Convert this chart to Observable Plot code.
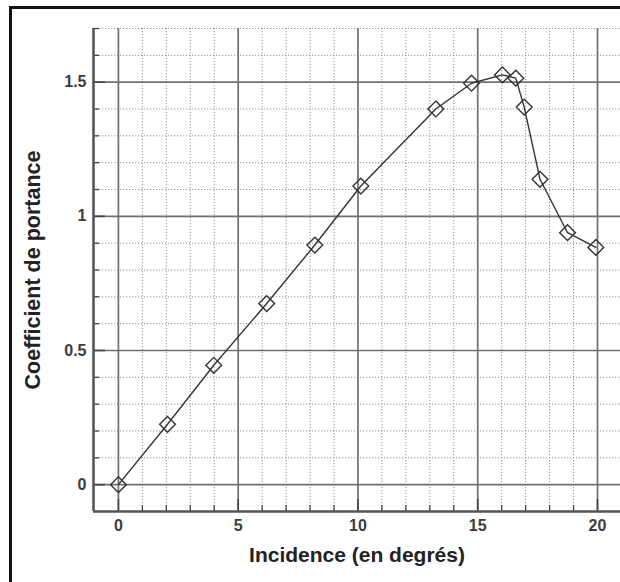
<!DOCTYPE html>
<html>
<head>
<meta charset="utf-8">
<script src="https://cdn.jsdelivr.net/npm/d3@7"></script>
<script src="https://cdn.jsdelivr.net/npm/@observablehq/plot@0.6"></script>
<style>
  html, body { margin: 0; padding: 0; background: #fff; overflow: hidden; }
  #wrap { position: relative; width: 620px; height: 582px; overflow: hidden; background: #fff; }
  #border { position: absolute; left: 9px; top: 6px; width: 700px; height: 700px; border: 3px solid #111; box-sizing: border-box; pointer-events: none; }
  #chart { position: absolute; left: 0; top: 0; }
</style>
</head>
<body>
<div id="wrap"><div id="chart"></div><div id="border"></div></div>
<script>
// Data
const incidence = [0, 2.05, 3.98, 6.19, 8.20, 10.12, 13.25, 14.74, 16.03, 16.59, 16.94, 17.60, 18.75, 19.93];
const portance  = [0, 0.225, 0.445, 0.675, 0.893, 1.113, 1.400, 1.496, 1.527, 1.515, 1.407, 1.138, 0.939, 0.884];

const xMajor = [0, 5, 10, 15, 20];
const xMinor = [1, 2, 3, 4, 6, 7, 8, 9, 11, 12, 13, 14, 16, 17, 18, 19];
const yMajor = [0, 0.5, 1, 1.5];
const yMinor = [0.1, 0.2, 0.3, 0.4, 0.6, 0.7, 0.8, 0.9, 1.1, 1.2, 1.3, 1.4, 1.6, 1.7];
const yTickLabels = ["0", "0.5", "1", "1.5"];

const xDomain = [-1.04, 20.96];
const yDomain = [-0.1, 1.7];

const xTitle = "Incidence (en degrés)";
const yTitle = "Coefficient de portance";

const data = incidence.map((a, i) => ({a, cl: portance[i]}));

const W = 620, H = 582, mL = 93, mT = 28, mB = 71, mR = 0;
const plotH = H - mT - mB, plotW = W - mL - mR;

const chart = Plot.plot({
  width: W, height: H,
  marginLeft: mL, marginTop: mT, marginBottom: mB, marginRight: mR,
  style: {fontFamily: "'Liberation Sans', Arial, sans-serif", background: "#fff"},
  x: {domain: xDomain},
  y: {domain: yDomain},
  marks: [
    // minor grid (dotted)
    Plot.ruleX(xMinor, {stroke: "#909090", strokeWidth: 1, strokeDasharray: "1.2,1.8"}),
    Plot.ruleY(yMinor, {stroke: "#909090", strokeWidth: 1, strokeDasharray: "1.2,1.8"}),
    // major grid
    Plot.ruleX(xMajor, {stroke: "#707070", strokeWidth: 1.7}),
    Plot.ruleY(yMajor, {stroke: "#707070", strokeWidth: 1.7}),
    // inward ticks
    Plot.tickX(xMajor, {stroke: "#444", strokeWidth: 1.6, insetTop: plotH - 12}),
    Plot.tickX(xMinor, {stroke: "#444", strokeWidth: 1.3, insetTop: plotH - 6}),
    Plot.tickY(yMajor, {stroke: "#444", strokeWidth: 1.6, insetRight: plotW - 12}),
    Plot.tickY(yMinor, {stroke: "#444", strokeWidth: 1.3, insetRight: plotW - 6}),
    // axis lines
    Plot.ruleX([xDomain[0]], {stroke: "#555", strokeWidth: 2.6}),
    Plot.ruleY([yDomain[0]], {stroke: "#555", strokeWidth: 2.6}),
    // tick labels
    Plot.axisX(xMajor, {tickSize: 0, tickPadding: 8, fontSize: 16, fontWeight: "bold", fill: "#3c3c3c", label: null}),
    Plot.axisY(yMajor, {tickSize: 0, tickPadding: 7, fontSize: 16, fontWeight: "bold", fill: "#3c3c3c", label: null,
      tickFormat: (d) => yTickLabels[yMajor.indexOf(d)]}),
    // data
    Plot.line(data, {x: "a", y: "cl", stroke: "#333", strokeWidth: 1.4}),
    Plot.dot(data, {x: "a", y: "cl", symbol: "diamond2", r: 7.1, stroke: "#333", strokeWidth: 1.4, fill: "none"}),
    // titles
    Plot.text([xTitle], {frameAnchor: "bottom", dy: 44, fontSize: 21, fontWeight: "bold", fill: "#222",
      lineAnchor: "middle", textAnchor: "middle", style: "letter-spacing:0.4px"}),
    Plot.text([yTitle], {frameAnchor: "left", dx: -60, rotate: -90, fontSize: 21.5, fontWeight: "bold", fill: "#222",
      lineAnchor: "middle", textAnchor: "middle"})
  ]
});
document.getElementById("chart").appendChild(chart);
</script>
</body>
</html>
